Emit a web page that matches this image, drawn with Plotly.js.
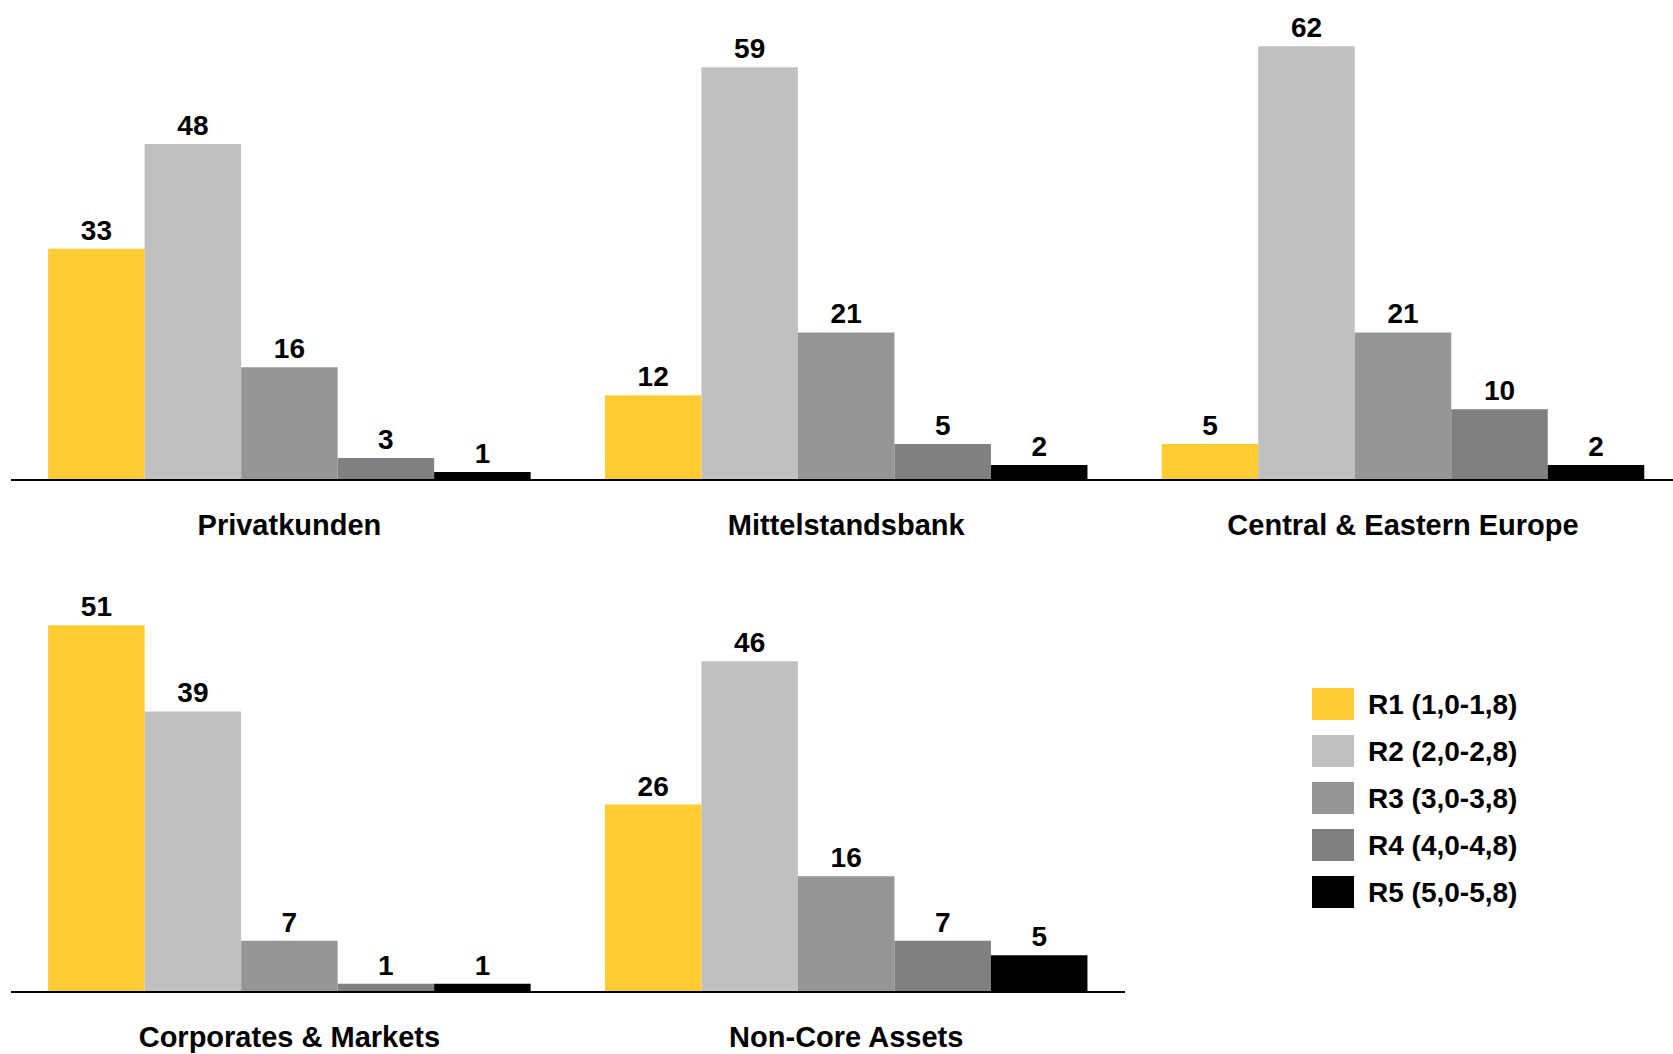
<!DOCTYPE html>
<html>
<head>
<meta charset="utf-8">
<script src="https://cdn.plot.ly/plotly-3.0.1.min.js"></script>
<style>html,body{margin:0;padding:0;background:#fff;}#chart{width:1673px;height:1054px;}</style>
</head>
<body>
<div id="chart"></div>
<script>
// ---- data ----
const categories = ["Privatkunden", "Mittelstandsbank", "Central & Eastern Europe", "Corporates & Markets", "Non-Core Assets"];
const topRowCount = 3;
const seriesNames = ["R1 (1,0-1,8)", "R2 (2,0-2,8)", "R3 (3,0-3,8)", "R4 (4,0-4,8)", "R5 (5,0-5,8)"];
const r1 = [33, 12, 5, 51, 26];
const r2 = [48, 59, 62, 39, 46];
const r3 = [16, 21, 21, 7, 16];
const r4 = [3, 5, 10, 1, 7];
const r5 = [1, 2, 2, 1, 5];
const seriesColors = ["#FFCC33", "#C0C0C0", "#969696", "#808080", "#000000"];

const series = [r1, r2, r3, r4, r5];
const W = 1673, H = 1054;
const FONT = "Liberation Sans, Arial, Helvetica, sans-serif";
const labelFont = {family: FONT, size: 28, color: "#000", weight: "bold"};

const traces = [];
series.forEach((vals, i) => {
  // top row
  traces.push({
    type: "bar", name: seriesNames[i],
    x: categories.slice(0, topRowCount), y: vals.slice(0, topRowCount),
    xaxis: "x", yaxis: "y",
    marker: {color: seriesColors[i], line: {width: 0}},
    text: vals.slice(0, topRowCount).map(String),
    textposition: "outside", cliponaxis: false,
    textfont: labelFont,
    hoverinfo: "x+y+name", showlegend: false
  });
  // bottom row
  traces.push({
    type: "bar", name: seriesNames[i],
    x: categories.slice(topRowCount), y: vals.slice(topRowCount),
    xaxis: "x2", yaxis: "y2",
    marker: {color: seriesColors[i], line: {width: 0}},
    text: vals.slice(topRowCount).map(String),
    textposition: "outside", cliponaxis: false,
    textfont: labelFont,
    hoverinfo: "x+y+name", showlegend: false
  });
});

// custom legend (large swatches)
const shapes = [], annotations = [];
const lgX0 = 1312, lgX1 = 1354, lgTop = 688, lgH = 32, lgStep = 47;
seriesNames.forEach((name, i) => {
  const top = lgTop + i * lgStep;
  shapes.push({
    type: "rect", xref: "paper", yref: "paper",
    x0: lgX0 / W, x1: lgX1 / W, y0: 1 - (top + lgH) / H, y1: 1 - top / H,
    fillcolor: seriesColors[i], line: {width: 0}
  });
  annotations.push({
    xref: "paper", yref: "paper", x: 1366 / W, y: 1 - (top + lgH / 2) / H,
    xanchor: "left", yanchor: "middle", showarrow: false,
    text: name, font: {family: FONT, size: 28, color: "#000", weight: "bold"}
  });
});

const x0 = 11 / W;
const slotPx = 556.8;
const topSpan = (W - 11) / slotPx;
const axisCommon = {
  type: "category", showline: true, linecolor: "#000", linewidth: 2,
  showgrid: false, zeroline: false, ticks: "outside", ticklen: 19,
  tickcolor: "rgba(0,0,0,0)", fixedrange: true,
  tickfont: {family: FONT, size: 29, color: "#000", weight: "bold"}
};
const layout = {
  width: W, height: H,
  margin: {l: 0, r: 0, t: 0, b: 0},
  paper_bgcolor: "#fff", plot_bgcolor: "#fff",
  barmode: "group", bargap: 0.1334, bargroupgap: 0,
  showlegend: false,
  xaxis: Object.assign({}, axisCommon, {domain: [x0, 1], range: [-0.5, -0.5 + topSpan], anchor: "y"}),
  yaxis: {domain: [1 - 479 / H, 1 - 24 / H], range: [0, 65.2], visible: false, fixedrange: true},
  xaxis2: Object.assign({}, axisCommon, {domain: [x0, (11 + 2 * slotPx) / W], range: [-0.5, 1.5], anchor: "y2"}),
  yaxis2: {domain: [1 - 991 / H, 1 - 589.5 / H], range: [0, 56], visible: false, fixedrange: true},
  shapes: shapes, annotations: annotations,
  font: {family: FONT}
};
Plotly.newPlot("chart", traces, layout, {displayModeBar: false, staticPlot: true});
</script>
</body>
</html>
